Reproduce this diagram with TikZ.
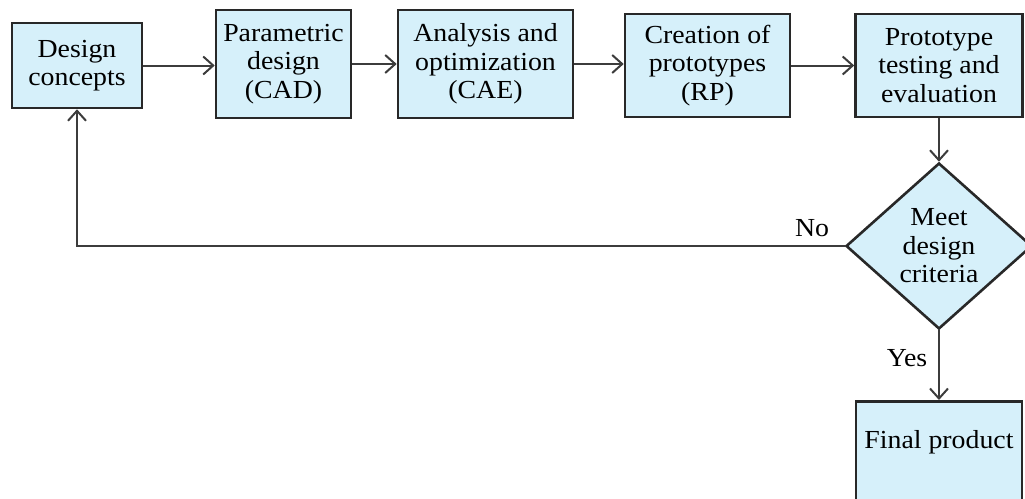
\documentclass[tikz,border=0pt]{standalone}
\usepackage{fontspec}
\setmainfont{Liberation Serif}[FakeStretch=1.07]
\usetikzlibrary{shapes.geometric}
\usetikzlibrary{arrows.meta}
\definecolor{boxfill}{RGB}{214,240,250}
\definecolor{boxline}{RGB}{40,40,40}
\definecolor{flowline}{RGB}{60,60,60}

\begin{document}
\begin{tikzpicture}[x=0.5pt, y=-0.5pt,
    box/.style = {draw=boxline, fill=boxfill, line width=1.3pt,
                minimum width=#1, inner sep=0pt, align=center,
                font=\fontsize{13}{14.2}\selectfont},
    box/.default = 67pt,  % width of the step boxes
    choice/.style = {diamond, draw=boxline, fill=boxfill, line width=1.3pt,
                minimum width=93pt, minimum height=83pt, inner sep=0pt,
                align=center, font=\fontsize{13}{14.2}\selectfont},
    flow/.style = {draw=flowline, line width=1pt,
                -{Straight Barb[length=5pt,width=9pt]}},
    tag/.style = {font=\fontsize{13}{14.2}\selectfont}
                    ]
        \useasboundingbox (0,0) rectangle (1025,499);
        % design steps
        \node[box=65pt, minimum height=42.5pt] (concepts) at (77,65.5) {Design\\concepts};
        \node[box=67.5pt, minimum height=54pt] (cad) at (283.5,64) {Parametric\\design\\(CAD)};
        \node[box=87.5pt, minimum height=54pt] (cae) at (485.5,64) {Analysis and\\optimization\\(CAE)};
        \node[box=82.5pt, minimum height=51.5pt] (rp) at (707.5,65.5) {Creation of\\prototypes\\(RP)};
        \node[box=83.5pt, minimum height=51.5pt] (testing) at (939,65.5) {Prototype\\testing and\\evaluation};
        \node[choice] (criteria) at (939,246) {Meet\\design\\criteria};
        \node[box=83pt, minimum height=60pt, anchor=north] (final) at (939,400) {};
        \node[tag] (finaltext) at (939,442) {Final product};
        \node[tag] (no) at (812,228) {No};
        \node[tag] (yes) at (907,358) {Yes};
        % connectors
        \foreach \a/\b in {concepts/cad, cad/cae, cae/rp, rp/testing}
            \draw[flow] (\a.east) -- (\a.east -| \b.west);
        \draw[flow] (testing.south) -- (criteria.north);
        \draw[flow] (criteria.south) -- (final.north);
        \draw[flow] (criteria.west) -| (concepts.south);
    \end{tikzpicture}
\end{document}
